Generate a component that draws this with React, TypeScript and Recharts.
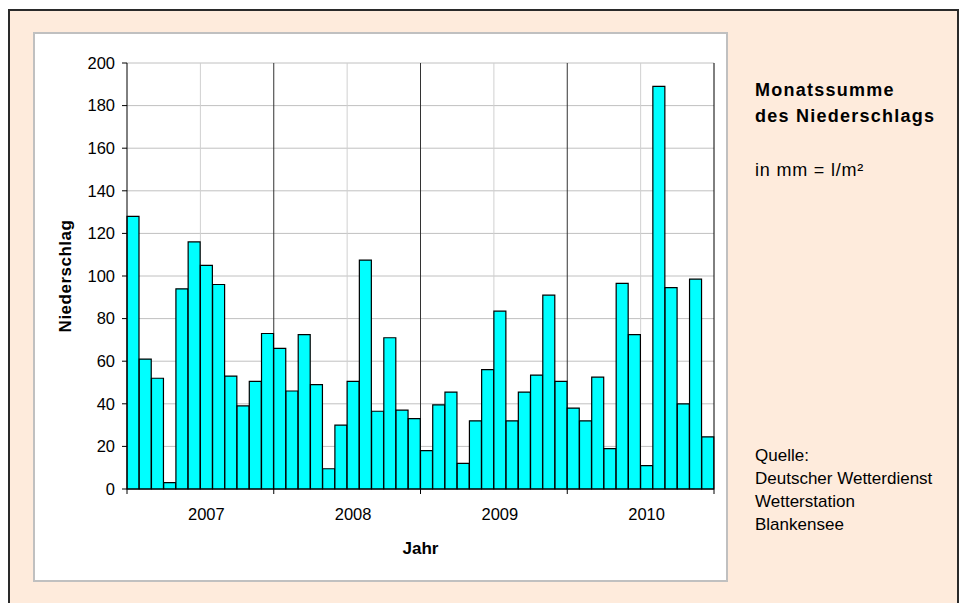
import {Bar, BarChart, CartesianGrid, ReferenceLine, XAxis, YAxis} from 'recharts';

const years = ['2007', '2008', '2009', '2010'];
const monthNames = ['Jan', 'Feb', 'Mär', 'Apr', 'Mai', 'Jun', 'Jul', 'Aug', 'Sep', 'Okt', 'Nov', 'Dez'];

// Monatssumme in mm
const rain2007 = [128, 61, 52, 3, 94, 116, 105, 96, 53, 39, 50.5, 73];
const rain2008 = [66, 46, 72.5, 49, 9.5, 30, 50.5, 107.5, 36.5, 71, 37, 33];
const rain2009 = [18, 39.5, 45.5, 12, 32, 56, 83.5, 32, 45.5, 53.5, 91, 50.5];
const rain2010 = [38, 32, 52.5, 19, 96.5, 72.5, 11, 189, 94.5, 40, 98.5, 24.5];

const yTicks = [0, 20, 40, 60, 80, 100, 120, 140, 160, 180, 200];

const data = [rain2007, rain2008, rain2009, rain2010].flatMap((vals, yi) =>
    vals.map((v, mi) => ({month: `${monthNames[mi]} ${years[yi]}`, v}))
);

const FONT = '"Liberation Sans", Arial, sans-serif';
const TICK_SIZE = 5;
const CHART_W = 695;
const CHART_H = 550;
const MARGIN = {top: 31, right: 14, left: 34, bottom: 63};
const Y_AXIS_W = 60;
const PLOT_W = CHART_W - MARGIN.left - MARGIN.right - Y_AXIS_W;
const BAND = PLOT_W / data.length;

// first month of each year / july of each year
const yearStarts = data.filter((_, i) => i % 12 === 0).map((d) => d.month);
const midYears = data.filter((_, i) => i % 12 === 6).map((d) => d.month);

function YearTick(props: any) {
    const {x, y, index} = props;
    const axisY = y - TICK_SIZE;
    const left = x - BAND / 2;
    const parts = [];
    if (index % 12 === 0) {
        parts.push(<line key="t" x1={left} x2={left} y1={axisY} y2={axisY + TICK_SIZE} stroke="#000"/>);
    }
    if (index === data.length - 1) {
        const right = x + BAND / 2;
        parts.push(<line key="r" x1={right} x2={right} y1={axisY} y2={axisY + TICK_SIZE} stroke="#000"/>);
    }
    if (index % 12 === 6) {
        parts.push(
            <text key="l" x={left + 6} y={axisY + 31} textAnchor="middle" fontFamily={FONT} fontSize={16.5}
                  fill="#000">
                {years[Math.floor(index / 12)]}
            </text>
        );
    }
    return <g>{parts}</g>;
}

function YTitle(props: any) {
    const vb = props.viewBox;
    const cx = vb.x - 2;
    const cy = vb.y + vb.height / 2;
    return (
        <text x={cx} y={cy} transform={`rotate(-90 ${cx} ${cy})`} textAnchor="middle" dominantBaseline="central"
              fontFamily={FONT} fontSize={17} fontWeight="bold" letterSpacing={0.5} fill="#000">
            Niederschlag
        </text>
    );
}

function XTitle(props: any) {
    const vb = props.viewBox;
    return (
        <text x={vb.x + vb.width / 2} y={vb.y + 65} textAnchor="middle"
              fontFamily={FONT} fontSize={17} fontWeight="bold" fill="#000">
            Jahr
        </text>
    );
}

const sideText: React.CSSProperties = {
    position: 'absolute',
    left: 745,
    margin: 0,
    fontFamily: FONT,
    color: '#000',
    whiteSpace: 'nowrap',
    lineHeight: 1,
};

export default function App() {
    return (
        <div style={{
            position: 'fixed',
            left: 8,
            top: 9,
            width: 951,
            height: 620,
            boxSizing: 'border-box',
            border: '2px solid #2a2a2a',
            background: '#FEEBDC',
        }}>
            <div style={{
                position: 'absolute',
                left: 23,
                top: 21,
                width: CHART_W,
                height: CHART_H,
                boxSizing: 'border-box',
                border: '2px solid #c0c0c0',
                background: '#fff',
            }}/>
            <div style={{position: 'absolute', left: 23, top: 21}}>
                <BarChart width={CHART_W} height={CHART_H} data={data} barCategoryGap={0} barGap={0}
                          margin={MARGIN}>
                    <CartesianGrid vertical={false} stroke="#c0c0c0"/>
                    <XAxis dataKey="month" height={30} interval={0} tick={<YearTick/>} tickLine={false}
                           tickSize={TICK_SIZE} tickMargin={0} axisLine={{stroke: '#000'}} label={<XTitle/>}/>
                    <YAxis domain={[0, 200]} ticks={yTicks} interval={0} width={Y_AXIS_W}
                           tick={{fill: '#000', fontSize: 16.5, fontFamily: FONT}}
                           tickLine={{stroke: '#000'}} tickSize={TICK_SIZE} tickMargin={7}
                           axisLine={{stroke: '#000'}} label={<YTitle/>}/>
                    {midYears.map((m) => (
                        <ReferenceLine key={`h${m}`} x={m} position="start" stroke="#d0d0d0" zIndex={-10}/>
                    ))}
                    {yearStarts.slice(1).map((m) => (
                        <ReferenceLine key={`e${m}`} x={m} position="start" stroke="#333" zIndex={-10}/>
                    ))}
                    <ReferenceLine x={data[data.length - 1].month} position="end" stroke="#000" zIndex={-10}/>
                    <Bar dataKey="v" fill="#00FFFF" stroke="#000" strokeWidth={1.2} isAnimationActive={false}/>
                </BarChart>
            </div>
            <div style={{...sideText, top: 70, fontSize: 18, fontWeight: 'bold', letterSpacing: 1.25}}>
                Monatssumme
            </div>
            <div style={{...sideText, top: 96, fontSize: 18, fontWeight: 'bold', letterSpacing: 1.25}}>
                des Niederschlags
            </div>
            <div style={{...sideText, top: 150, fontSize: 18, letterSpacing: 0.8}}>
                in mm = l/m²
            </div>
            <div style={{...sideText, top: 433, fontSize: 17, lineHeight: '23px'}}>
                Quelle:<br/>
                Deutscher Wetterdienst<br/>
                Wetterstation<br/>
                Blankensee
            </div>
        </div>
    );
}
